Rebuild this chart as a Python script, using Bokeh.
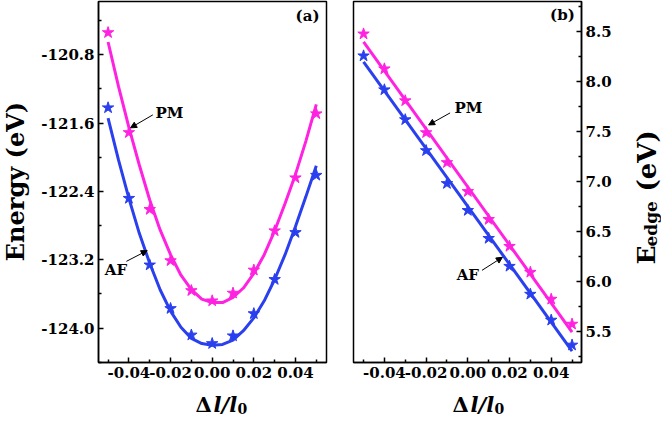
import math
from bokeh.plotting import figure
from bokeh.layouts import row, column
from bokeh.models import FixedTicker, Label, Arrow, NormalHead, Range1d
from bokeh.core.properties import value
from bokeh.embed import file_html
from bokeh.resources import INLINE

# ---------------- data ----------------
x_pts = [-0.05, -0.04, -0.03, -0.02, -0.01, 0.00, 0.01, 0.02, 0.03, 0.04, 0.05]

energy_pm = [-120.54, -121.71, -122.61, -123.21, -123.56, -123.68,
             -123.59, -123.32, -122.86, -122.24, -121.49]
energy_af = [-121.42, -122.48, -123.26, -123.77, -124.08, -124.18,
             -124.09, -123.83, -123.43, -122.88, -122.21]

x_fit = [-0.05, -0.045, -0.04, -0.035, -0.03, -0.025, -0.02, -0.015, -0.01, -0.005,
         0.0, 0.005, 0.01, 0.015, 0.02, 0.025, 0.03, 0.035, 0.04, 0.045, 0.05]
energy_pm_fit = [-120.65, -121.17, -121.65, -122.09, -122.50, -122.85, -123.14,
                 -123.38, -123.55, -123.66, -123.70, -123.70, -123.64, -123.53,
                 -123.36, -123.14, -122.86, -122.54, -122.20, -121.81, -121.38]
energy_af_fit = [-121.54, -122.03, -122.48, -122.89, -123.24, -123.55, -123.80,
                 -123.99, -124.12, -124.18, -124.20, -124.19, -124.14, -124.03,
                 -123.88, -123.68, -123.43, -123.14, -122.81, -122.46, -122.10]

edge_pm = [8.48, 8.13, 7.81, 7.49, 7.19, 6.90, 6.62, 6.35, 6.09, 5.82, 5.57]
edge_af = [8.26, 7.92, 7.62, 7.31, 6.98, 6.71, 6.43, 6.15, 5.87, 5.61, 5.36]
x_lin = [-0.05, 0.05]
edge_pm_fit = [8.40, 5.49]
edge_af_fit = [8.20, 5.30]

x_ticks = [-0.04, -0.02, 0.00, 0.02, 0.04]
x_tick_labels = ["-0.04", "-0.02", "0.00", "0.02", "0.04"]
x_minor = [-0.05, -0.03, -0.01, 0.01, 0.03, 0.05]
energy_ticks = [-124.0, -123.2, -122.4, -121.6, -120.8]
energy_tick_labels = ["-124.0", "-123.2", "-122.4", "-121.6", "-120.8"]
energy_minor = [-124.4, -123.6, -122.8, -122.0, -121.2, -120.4]
edge_ticks = [5.5, 6.0, 6.5, 7.0, 7.5, 8.0, 8.5]
edge_tick_labels = ["5.5", "6.0", "6.5", "7.0", "7.5", "8.0", "8.5"]
edge_minor = [5.25, 5.75, 6.25, 6.75, 7.25, 7.75, 8.25, 8.75]

energy_title = "Energy (eV)"
edge_title = ["E", "edge", "(eV)"]
x_title = ["\u0394", "l/l", "0"]

PM_COLOR = "#FF22E0"
AF_COLOR = "#2A3FEE"
FONT = "DejaVu Serif"

TOP_H = 384          # 1 + 361 frame + 22 for tick labels
BOT_H = 421 - TOP_H


def style_axis(ax, size="15px"):
    ax.major_label_text_font = FONT
    ax.major_label_text_font_style = "bold"
    ax.major_label_text_font_size = size
    ax.major_label_text_color = "black"
    ax.major_tick_in = 5
    ax.major_tick_out = 0
    ax.minor_tick_in = 3
    ax.minor_tick_out = 0
    ax.axis_line_width = 1.5
    ax.major_tick_line_width = 1.5
    ax.minor_tick_line_width = 1.5
    ax.major_label_standoff = 4


def add_label(p, x, y, text, size, style="bold"):
    p.add_layout(Label(x=x, y=y, text=text, text_font=FONT, text_font_style=style,
                       text_font_size=size, text_color="black",
                       text_align="center", text_baseline="middle"))


def add_arrow(p, xs, ys, xe, ye):
    p.add_layout(Arrow(end=NormalHead(size=6, fill_color="black", line_color="black",
                                      line_width=1),
                       x_start=xs, y_start=ys, x_end=xe, y_end=ye,
                       line_color="black", line_width=1))


def blank(w, h):
    f = figure(frame_width=w, frame_height=h, x_range=Range1d(0, w),
               y_range=Range1d(0, h), min_border=0, x_axis_location=None,
               y_axis_location=None, output_backend="svg", toolbar_location=None)
    f.grid.visible = False
    f.outline_line_color = None
    return f


def txt(f, x, y, s, size, style="bold", angle=0.0, align="left",
        baseline="alphabetic"):
    f.text(x=[x], y=[y], text=[s], text_font=value(FONT), text_font_style=style,
           text_font_size=value(size), text_color="black", angle=angle,
           text_align=align, text_baseline=baseline)


# ---------------- left title strip ----------------
pl = blank(33, TOP_H)
txt(pl, 15, TOP_H - 180, energy_title, "24px", angle=math.pi / 2, align="center",
    baseline="middle")

# ---------------- panel (a) ----------------
p1 = figure(frame_width=228, frame_height=361,
            x_range=Range1d(-0.0546, 0.0549), y_range=Range1d(-124.402, -120.176),
            min_border_left=65, min_border_right=13, min_border_top=1,
            min_border_bottom=TOP_H - 362, output_backend="svg",
            toolbar_location=None)
p1.grid.visible = False
p1.outline_line_color = "black"
p1.outline_line_width = 1.5
p1.xaxis.ticker = FixedTicker(ticks=x_ticks, minor_ticks=x_minor)
p1.xaxis.major_label_overrides = dict(zip(x_ticks, x_tick_labels))
p1.yaxis.ticker = FixedTicker(ticks=energy_ticks, minor_ticks=energy_minor)
p1.yaxis.major_label_overrides = dict(zip(energy_ticks, energy_tick_labels))
style_axis(p1.xaxis[0])
style_axis(p1.yaxis[0])

p1.line(x_fit, energy_pm_fit, line_color=PM_COLOR, line_width=3)
p1.line(x_fit, energy_af_fit, line_color=AF_COLOR, line_width=3)
p1.scatter(x_pts, energy_pm, marker="star", size=12, fill_color=PM_COLOR,
           line_color=PM_COLOR)
p1.scatter(x_pts, energy_af, marker="star", size=12, fill_color=AF_COLOR,
           line_color=AF_COLOR)

add_label(p1, 0.0458, -120.34, "(a)", "15px")
add_label(p1, -0.0205, -121.484, "PM", "15px")
add_arrow(p1, -0.0285, -121.503, -0.0392, -121.655)
add_label(p1, -0.0462, -123.318, "AF", "15px")
add_arrow(p1, -0.0412, -123.218, -0.0312, -123.092)

# ---------------- panel (b) ----------------
p2 = figure(frame_width=228, frame_height=361,
            x_range=Range1d(-0.05482, 0.05453), y_range=Range1d(5.185, 8.805),
            y_axis_location="right",
            min_border_left=14, min_border_right=40, min_border_top=1,
            min_border_bottom=TOP_H - 362, output_backend="svg",
            toolbar_location=None)
p2.grid.visible = False
p2.outline_line_color = "black"
p2.outline_line_width = 1.5
p2.xaxis.ticker = FixedTicker(ticks=x_ticks, minor_ticks=x_minor)
p2.xaxis.major_label_overrides = dict(zip(x_ticks, x_tick_labels))
p2.yaxis.ticker = FixedTicker(ticks=edge_ticks, minor_ticks=edge_minor)
p2.yaxis.major_label_overrides = dict(zip(edge_ticks, edge_tick_labels))
style_axis(p2.xaxis[0])
style_axis(p2.yaxis[0])

p2.line(x_lin, edge_pm_fit, line_color=PM_COLOR, line_width=3)
p2.line(x_lin, edge_af_fit, line_color=AF_COLOR, line_width=3)
p2.scatter(x_pts, edge_pm, marker="star", size=12, fill_color=PM_COLOR,
           line_color=PM_COLOR)
p2.scatter(x_pts, edge_af, marker="star", size=12, fill_color=AF_COLOR,
           line_color=AF_COLOR)

add_label(p2, 0.0454, 8.674, "(b)", "15px")
add_label(p2, 0.0003, 7.738, "PM", "15px")
add_arrow(p2, -0.0085, 7.688, -0.0188, 7.567)
add_label(p2, 0.0, 6.058, "AF", "15px")
add_arrow(p2, 0.0068, 6.109, 0.0166, 6.240)

# ---------------- right title strip ----------------
pr = blank(40, TOP_H)
txt(pr, 25, TOP_H - 263, edge_title[0], "25px", angle=math.pi / 2)
txt(pr, 29, TOP_H - 245, edge_title[1], "17px", angle=math.pi / 2)
txt(pr, 25, TOP_H - 190, edge_title[2], "26px", angle=math.pi / 2)

# ---------------- bottom title strip ----------------
pb = blank(661, BOT_H)
for x0 in (195, 452):
    txt(pb, x0, 421 - 404, x_title[0], "21px")
    txt(pb, x0 + 18, 421 - 404, x_title[1], "21px", style="bold italic")
    txt(pb, x0 + 42, 421 - 408, x_title[2], "14px")

layout = column(row(pl, p1, p2, pr), pb)
open("out.html", "w").write(file_html(layout, INLINE))
